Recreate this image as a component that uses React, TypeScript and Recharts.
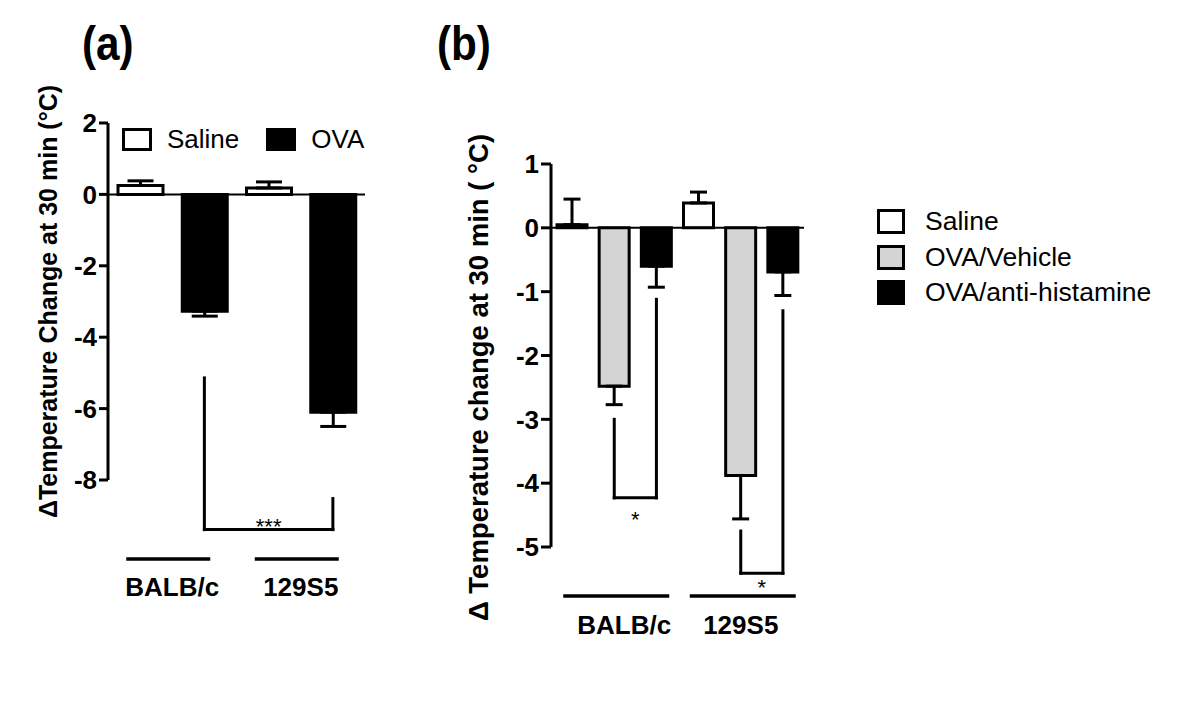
import {
  BarChart,
  Bar,
  XAxis,
  YAxis,
  ReferenceLine,
  ErrorBar,
  Cell,
} from "recharts";

const FONT = "'Liberation Sans', Arial, Helvetica, sans-serif";

// panel (a): temperature change, two strains x two treatments
const aStrains = ["BALB/c", "BALB/c", "129S5", "129S5"];
const aTreatments = ["Saline", "OVA", "Saline", "OVA"];
const aMeans = [0.25, -3.27, 0.18, -6.1];
const aSem = [0.13, 0.14, 0.17, 0.4];
const aTicks = [-8, -6, -4, -2, 0, 2];
const aLegend = ["Saline", "OVA"];
// bar index pairs and bracket heights (data units)
const aBrackets = [
  { from: 1, to: 3, leftTop: -5.14, rightTop: -8.52, bottom: -9.39, mark: "***", pos: "top", gap: -4 },
];

// panel (b): three treatments per strain
const bStrains = ["BALB/c", "BALB/c", "BALB/c", "129S5", "129S5", "129S5"];
const bTreatments = [
  "Saline",
  "OVA/Vehicle",
  "OVA/anti-histamine",
  "Saline",
  "OVA/Vehicle",
  "OVA/anti-histamine",
];
const bMeans = [0.05, -2.48, -0.6, 0.39, -3.88, -0.69];
const bSem = [0.4, 0.29, 0.33, 0.17, 0.68, 0.37];
const bTicks = [-5, -4, -3, -2, -1, 0, 1];
const bLegend = ["Saline", "OVA/Vehicle", "OVA/anti-histamine"];
const bBrackets = [
  { from: 1, to: 2, leftTop: -3.0, rightTop: -1.12, bottom: -4.23, mark: "*", pos: "bottom", gap: 14 },
  { from: 4, to: 5, leftTop: -4.75, rightTop: -1.3, bottom: -5.41, mark: "*", pos: "bottom", gap: 6 },
];

const fills: Record<string, string> = {
  Saline: "#ffffff",
  OVA: "#000000",
  "OVA/Vehicle": "#d4d4d4",
  "OVA/anti-histamine": "#000000",
};

function buildRows(strains: string[], treatments: string[], means: number[], sem: number[]) {
  return means.map((m, i) => ({
    id: strains[i] + " " + treatments[i],
    group: strains[i],
    treatment: treatments[i],
    value: m,
    // one-sided error: away from zero
    err: m >= 0 ? [0, sem[i]] : [sem[i], 0],
  }));
}

const aData = buildRows(aStrains, aTreatments, aMeans, aSem);
const bData = buildRows(bStrains, bTreatments, bMeans, bSem);

function GroupTick(props: any) {
  const { x, y, payload, index, half, lineDx = 0, textDx = [0, 0], lineDy, textDy, fontSize } = props;
  return (
    <g>
      <line
        x1={x + lineDx - half}
        x2={x + lineDx + half}
        y1={y + lineDy}
        y2={y + lineDy}
        stroke="#000"
        strokeWidth={3.5}
      />
      <text
        x={x + (textDx[index] || 0)}
        y={y + textDy}
        textAnchor="middle"
        fontFamily={FONT}
        fontWeight={700}
        fontSize={fontSize}
        fill="#000"
      >
        {payload.value}
      </text>
    </g>
  );
}

function renderBrackets(rows: any[], brackets: any[], fontSize: number) {
  const line = { stroke: "#000", strokeWidth: 3, ifOverflow: "visible" as const, strokeLinecap: "square" as const };
  return brackets.flatMap((b, i) => {
    const l = rows[b.from].id;
    const r = rows[b.to].id;
    return [
      <ReferenceLine key={"l" + i} {...line} segment={[{ x: l, y: b.leftTop }, { x: l, y: b.bottom }]} />,
      <ReferenceLine key={"r" + i} {...line} segment={[{ x: r, y: b.rightTop }, { x: r, y: b.bottom }]} />,
      <ReferenceLine
        key={"h" + i}
        {...line}
        segment={[{ x: l, y: b.bottom }, { x: r, y: b.bottom }]}
        label={{
          value: b.mark,
          position: b.pos,
          offset: b.gap,
          fill: "#000",
          fontSize,
          fontFamily: FONT,
        }}
      />,
    ];
  });
}

function LegendBox({ name, w, h }: { name: string; w: number; h: number }) {
  return (
    <div
      style={{
        width: w,
        height: h,
        boxSizing: "border-box",
        border: "3px solid #000",
        background: fills[name],
      }}
    />
  );
}

const panelTitle = {
  position: "absolute" as const,
  top: 20,
  fontSize: 48,
  fontWeight: 700,
  lineHeight: 1,
  transform: "scaleX(0.88)",
  transformOrigin: "left top",
};

export default function App() {
  const axisStroke = { stroke: "#000", strokeWidth: 3 };
  return (
    <div
      style={{
        position: "absolute",
        left: 0,
        top: 0,
        width: 1200,
        height: 718,
        background: "#fff",
        fontFamily: FONT,
        color: "#000",
        overflow: "hidden",
      }}
    >
      <div style={{ ...panelTitle, left: 82 }}>(a)</div>
      <div style={{ ...panelTitle, left: 437 }}>(b)</div>

      {/* panel (a) */}
      <div style={{ position: "absolute", left: 0, top: 0 }}>
        <BarChart
          width={400}
          height={620}
          data={aData}
          margin={{ top: 123, right: 35, bottom: 0, left: 0 }}
          barSize={45}
        >
          <XAxis dataKey="id" hide height={0} />
          <XAxis
            xAxisId="grp"
            dataKey="group"
            allowDuplicatedCategory={false}
            axisLine={false}
            tickLine={false}
            height={140}
            interval={0}
            tick={<GroupTick half={42} lineDx={-4} lineDy={71} textDy={108} fontSize={26} />}
          />
          <YAxis
            domain={[-8, 2]}
            ticks={aTicks}
            interval={0}
            allowDataOverflow
            width={108}
            axisLine={axisStroke}
            tickLine={axisStroke}
            tickSize={9}
            tick={{ fill: "#000", fontSize: 26, fontWeight: 700, fontFamily: FONT }}
            label={{
              value: "ΔTemperature Change at 30 min (°C)",
              angle: -90,
              position: "insideLeft",
              offset: 48,
              style: { textAnchor: "middle", fontSize: 25, fontWeight: 700, fontFamily: FONT, fill: "#000" },
            }}
          />
          <ReferenceLine y={0} stroke="#000" strokeWidth={2} />
          <Bar dataKey="value" stroke="#000" strokeWidth={3} isAnimationActive={false}>
            {aData.map((d) => (
              <Cell key={d.id} fill={fills[d.treatment]} />
            ))}
            <ErrorBar dataKey="err" width={13} stroke="#000" strokeWidth={3} />
          </Bar>
          {renderBrackets(aData, aBrackets, 22)}
        </BarChart>
      </div>

      <div style={{ position: "absolute", left: 122, top: 124, display: "flex", alignItems: "center" }}>
        {aLegend.map((n) => (
          <div key={n} style={{ display: "flex", alignItems: "center", marginRight: 27 }}>
            <LegendBox name={n} w={30} h={23} />
            <span style={{ marginLeft: 15, fontSize: 26 }}>{n}</span>
          </div>
        ))}
      </div>

      {/* panel (b) */}
      <div style={{ position: "absolute", left: 440, top: 0 }}>
        <BarChart
          width={380}
          height={657}
          data={bData}
          margin={{ top: 164, right: 16, bottom: 0, left: 0 }}
          barSize={30}
        >
          <XAxis dataKey="id" hide height={0} />
          <XAxis
            xAxisId="grp"
            dataKey="group"
            allowDuplicatedCategory={false}
            axisLine={false}
            tickLine={false}
            height={110}
            interval={0}
            tick={<GroupTick half={53} lineDx={2} textDx={[10, 0]} lineDy={41} textDy={79} fontSize={26} />}
          />
          <YAxis
            domain={[-5, 1]}
            ticks={bTicks}
            interval={0}
            allowDataOverflow
            width={111}
            axisLine={axisStroke}
            tickLine={axisStroke}
            tickSize={10}
            tick={{ fill: "#000", fontSize: 26, fontWeight: 700, fontFamily: FONT }}
            label={{
              value: "Δ Temperature change at 30 min ( °C)",
              angle: -90,
              position: "insideLeft",
              offset: 38,
              dy: 22,
              style: { textAnchor: "middle", fontSize: 27.5, fontWeight: 700, fontFamily: FONT, fill: "#000" },
            }}
          />
          <ReferenceLine y={0} stroke="#000" strokeWidth={2} />
          <Bar dataKey="value" stroke="#000" strokeWidth={3} isAnimationActive={false}>
            {bData.map((d) => (
              <Cell key={d.id} fill={fills[d.treatment]} />
            ))}
            <ErrorBar dataKey="err" width={8.5} stroke="#000" strokeWidth={3} />
          </Bar>
          {renderBrackets(bData, bBrackets, 22)}
        </BarChart>
      </div>

      <div style={{ position: "absolute", left: 877, top: 204, display: "flex", flexDirection: "column" }}>
        {bLegend.map((n) => (
          <div key={n} style={{ display: "flex", alignItems: "center", height: 35.5 }}>
            <LegendBox name={n} w={28} h={25} />
            <span style={{ marginLeft: 20, fontSize: 26.5 }}>{n}</span>
          </div>
        ))}
      </div>
    </div>
  );
}
